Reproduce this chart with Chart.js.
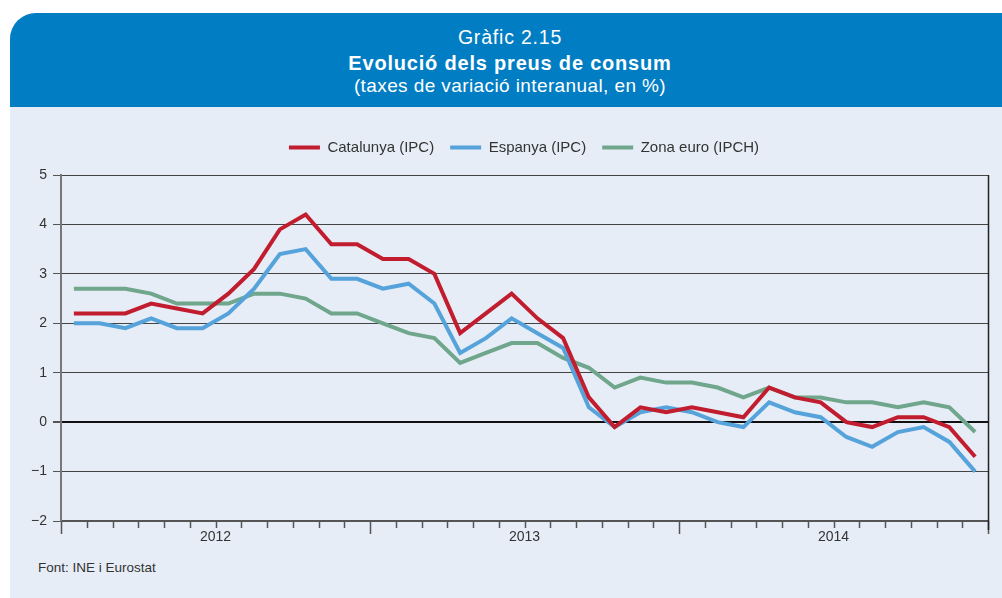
<!DOCTYPE html>
<html lang="ca">
<head>
<meta charset="utf-8">
<script src="https://cdn.jsdelivr.net/npm/chart.js@4/dist/chart.umd.min.js"></script>
<style>
    html, body { margin: 0; padding: 0; background: #fff; }
    body { width: 1002px; height: 598px; position: relative; overflow: hidden; font-family: "Liberation Sans", Arial, sans-serif; }
    .panel { position: absolute; left: 10px; top: 13px; width: 992px; height: 585px; background: #e6edf7; border-top-left-radius: 26px; overflow: hidden; }
    .header { position: absolute; left: 0; top: 0; width: 992px; height: 94px; background: #007dc3; color: #fff; text-align: center; }
    .header div { position: absolute; left: 8px; right: 0; white-space: nowrap; line-height: 1; }
    .header .num { top: 15px; font-size: 19.5px; letter-spacing: 0.8px; }
    .header .title { top: 40px; font-size: 20px; font-weight: bold; letter-spacing: 0.8px; }
    .header .sub { top: 63px; font-size: 19px; letter-spacing: 0.4px; }
    .source { position: absolute; left: 38px; top: 560px; font-size: 13.5px; color: #333; }
    #wrap { position: absolute; left: 0; top: 112px; width: 1002px; height: 448px; }
</style>
</head>
<body>
<div class="panel">
    <div class="header">
        <div class="num">Gràfic 2.15</div>
        <div class="title">Evolució dels preus de consum</div>
        <div class="sub">(taxes de variació interanual, en %)</div>
    </div>
</div>
<div id="wrap"><canvas id="chart"></canvas></div>
<div class="source">Font: INE i Eurostat</div>

<script>
    // mensual, gener 2012 - desembre 2014
    const years = ["2012", "2013", "2014"];
    const months = years.flatMap(y => ["01","02","03","04","05","06","07","08","09","10","11","12"].map(m => y + "-" + m));

    const catalunya = [2.2, 2.2, 2.2, 2.4, 2.3, 2.2, 2.6, 3.1, 3.9, 4.2, 3.6, 3.6,
                       3.3, 3.3, 3.0, 1.8, 2.2, 2.6, 2.1, 1.7, 0.5, -0.1, 0.3, 0.2,
                       0.3, 0.2, 0.1, 0.7, 0.5, 0.4, 0.0, -0.1, 0.1, 0.1, -0.1, -0.7];
    const espanya = [2.0, 2.0, 1.9, 2.1, 1.9, 1.9, 2.2, 2.7, 3.4, 3.5, 2.9, 2.9,
                     2.7, 2.8, 2.4, 1.4, 1.7, 2.1, 1.8, 1.5, 0.3, -0.1, 0.2, 0.3,
                     0.2, 0.0, -0.1, 0.4, 0.2, 0.1, -0.3, -0.5, -0.2, -0.1, -0.4, -1.0];
    const zonaEuro = [2.7, 2.7, 2.7, 2.6, 2.4, 2.4, 2.4, 2.6, 2.6, 2.5, 2.2, 2.2,
                      2.0, 1.8, 1.7, 1.2, 1.4, 1.6, 1.6, 1.3, 1.1, 0.7, 0.9, 0.8,
                      0.8, 0.7, 0.5, 0.7, 0.5, 0.5, 0.4, 0.4, 0.3, 0.4, 0.3, -0.2];

    const FONT = "'Liberation Sans', Arial, sans-serif";

    // més aire sota la llegenda, i llegenda una mica desplaçada a la dreta
    const legendGap = {
        id: "legendGap",
        beforeInit(chart) {
            const fit = chart.legend.fit;
            chart.legend.fit = function () {
                fit.call(this);
                this.height += 10;
            };
        },
        afterLayout(chart) {
            chart.legend.left += 30;
            chart.legend.right += 30;
        }
    };

    // ticks mensuals i etiquetes d'any sota l'eix
    const monthTicks = {
        id: "monthTicks",
        afterDraw(chart) {
            const x = chart.scales.x;
            const area = chart.chartArea;
            const ctx = chart.ctx;
            const step = x.getPixelForValue(1) - x.getPixelForValue(0);
            const start = x.getPixelForValue(0) - step / 2;
            ctx.save();
            ctx.strokeStyle = "#555";
            ctx.lineWidth = 1.5;
            for (let i = 0; i <= months.length; i++) {
                const px = Math.round(start + i * step) + 0.5;
                const major = i % 12 === 0;
                ctx.beginPath();
                ctx.moveTo(px, area.bottom);
                ctx.lineTo(px, area.bottom + (major ? 13 : 7));
                ctx.stroke();
            }
            // línia vertical dreta
            ctx.strokeStyle = "#222";
            ctx.beginPath();
            ctx.moveTo(Math.round(area.right) + 0.5, area.top);
            ctx.lineTo(Math.round(area.right) + 0.5, area.bottom + 9);
            ctx.stroke();

            ctx.fillStyle = "#333";
            ctx.font = "14px " + FONT;
            ctx.textAlign = "center";
            ctx.textBaseline = "middle";
            years.forEach((y, k) => {
                ctx.fillText(y, start + (k * 12 + 6) * step, area.bottom + 16);
            });
            ctx.restore();
        }
    };

    const line = (label, data, color) => ({
        label, data,
        borderColor: color,
        backgroundColor: color,
        borderWidth: 4,
        pointRadius: 0,
        tension: 0,
        borderJoinStyle: "miter"
    });

    new Chart(document.getElementById("chart"), {
        type: "line",
        data: {
            labels: months,
            datasets: [
                line("Catalunya (IPC)", catalunya, "#c11d2e"),
                line("Espanya (IPC)", espanya, "#55a3da"),
                line("Zona euro (IPCH)", zonaEuro, "#6fa68c")
            ]
        },
        options: {
            responsive: true,
            maintainAspectRatio: false,
            animation: false,
            layout: { padding: { top: 12, right: 14, left: 0, bottom: 0 } },
            plugins: {
                legend: {
                    position: "top",
                    labels: {
                        boxWidth: 31,
                        boxHeight: 4,
                        padding: 16,
                        color: "#333",
                        font: { size: 15, family: FONT },
                        generateLabels: chart => Chart.defaults.plugins.legend.labels.generateLabels(chart)
                            .map(l => Object.assign(l, { lineWidth: 0 }))
                    }
                },
                tooltip: { enabled: false }
            },
            scales: {
                x: {
                    offset: true,
                    ticks: { display: false },
                    grid: { display: false, drawTicks: false },
                    border: { display: true, color: "#555", width: 2 },
                    afterFit: s => { s.height = 39; }
                },
                y: {
                    min: -2,
                    max: 5,
                    ticks: {
                        stepSize: 1,
                        padding: 6,
                        color: "#333",
                        font: { size: 14, family: FONT },
                        callback: v => v < 0 ? "\u2212" + Math.abs(v) : v
                    },
                    grid: {
                        color: c => c.tick && c.tick.value === 0 ? "#111" : "#444",
                        lineWidth: c => c.tick && c.tick.value === 0 ? 2 : 1,
                        tickLength: 8,
                        tickColor: "#555"
                    },
                    border: { display: true, color: "#777", width: 2 },
                    afterFit: s => { s.width = 61; }
                }
            }
        },
        plugins: [legendGap, monthTicks]
    });
</script>
</body>
</html>
